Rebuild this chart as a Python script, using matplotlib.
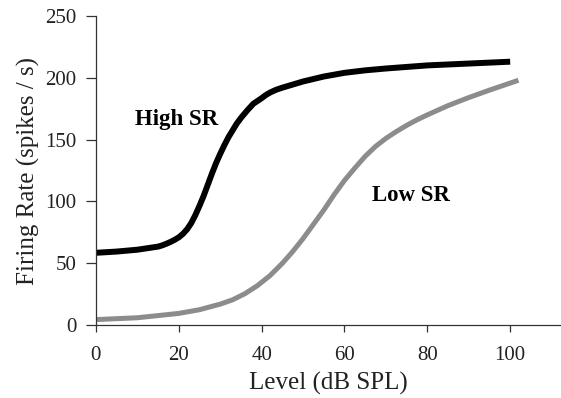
import matplotlib
matplotlib.use("Agg")
import matplotlib.pyplot as plt

# rate-level functions
level_high = [0, 5, 10, 15, 16, 17, 18, 19, 20, 21, 22, 23, 24, 25, 26, 27, 28, 29, 30, 31, 32, 33, 34, 35,
              36.5, 38, 40, 41, 42, 43.5, 45, 47.5, 50, 55, 60, 65, 70, 80, 90, 100]
rate_high = [58.5, 59.5, 61, 63.5, 64.5, 65.8, 67.3, 69, 71, 73.8, 77.5, 82.5, 89, 96.5, 104.5, 113.5, 122.5, 131, 138.5,
             145.5, 152, 157.5, 163, 167.5, 173.5, 179, 183.5, 186, 188, 190.3, 192, 194.5, 197, 201, 204, 206, 207.5,
             210, 211.5, 213]

level_low = [0, 10, 20, 25, 30, 33, 36, 39, 42, 45, 47.5, 50, 52.5, 55, 57.5, 60, 62.5, 65, 67.5,
             70, 72.5, 75, 77.5, 80, 85, 90, 95, 102]
rate_low = [4.5, 6, 9.5, 12.5, 17, 20.5, 25.5, 32, 40, 50, 59.5, 70, 81.5, 93, 105.5, 117, 127, 136.5, 144.5,
            151, 156.5, 161.5, 166, 170, 177.5, 184, 190, 198]

xticks = [0, 20, 40, 60, 80, 100]
yticks = [0, 50, 100, 150, 200, 250]

plt.rcParams['font.family'] = ['Liberation Serif', 'DejaVu Serif']

fig = plt.figure(figsize=(5.61, 3.98), dpi=100)
ax = fig.add_axes([0.171, 0.183, 0.827, 0.777])

ax.plot(level_low, rate_low, color='#8c8c8c', lw=3.6, solid_capstyle='butt', solid_joinstyle='round')
ax.plot(level_high, rate_high, color='black', lw=4.3, solid_capstyle='butt', solid_joinstyle='round')

ax.text(19.5, 166, 'High SR', fontsize=16.5, fontweight='bold', ha='center', va='center')
ax.text(76, 105, 'Low SR', fontsize=16.5, fontweight='bold', ha='center', va='center')

ax.set_xlim(0, 112)
ax.set_ylim(0, 250)
ax.set_xticks(xticks)
ax.set_yticks(yticks)
ax.spines['top'].set_visible(False)
ax.spines['right'].set_visible(False)
for s in ['left', 'bottom']:
    ax.spines[s].set_linewidth(0.9)
    ax.spines[s].set_color('#333333')
ax.tick_params(axis='y', length=7, width=0.9, color='#333333', labelsize=15, labelcolor='#222222', pad=7)
ax.tick_params(axis='x', length=5, width=0.9, color='#333333', labelsize=15, labelcolor='#222222', pad=10)

ax.set_xlabel('Level (dB SPL)', fontsize=18, color='#222222', labelpad=5)
ax.set_ylabel('Firing Rate (spikes / s)', fontsize=18, color='#222222', labelpad=4)

fig.savefig('out.png', dpi=100)
